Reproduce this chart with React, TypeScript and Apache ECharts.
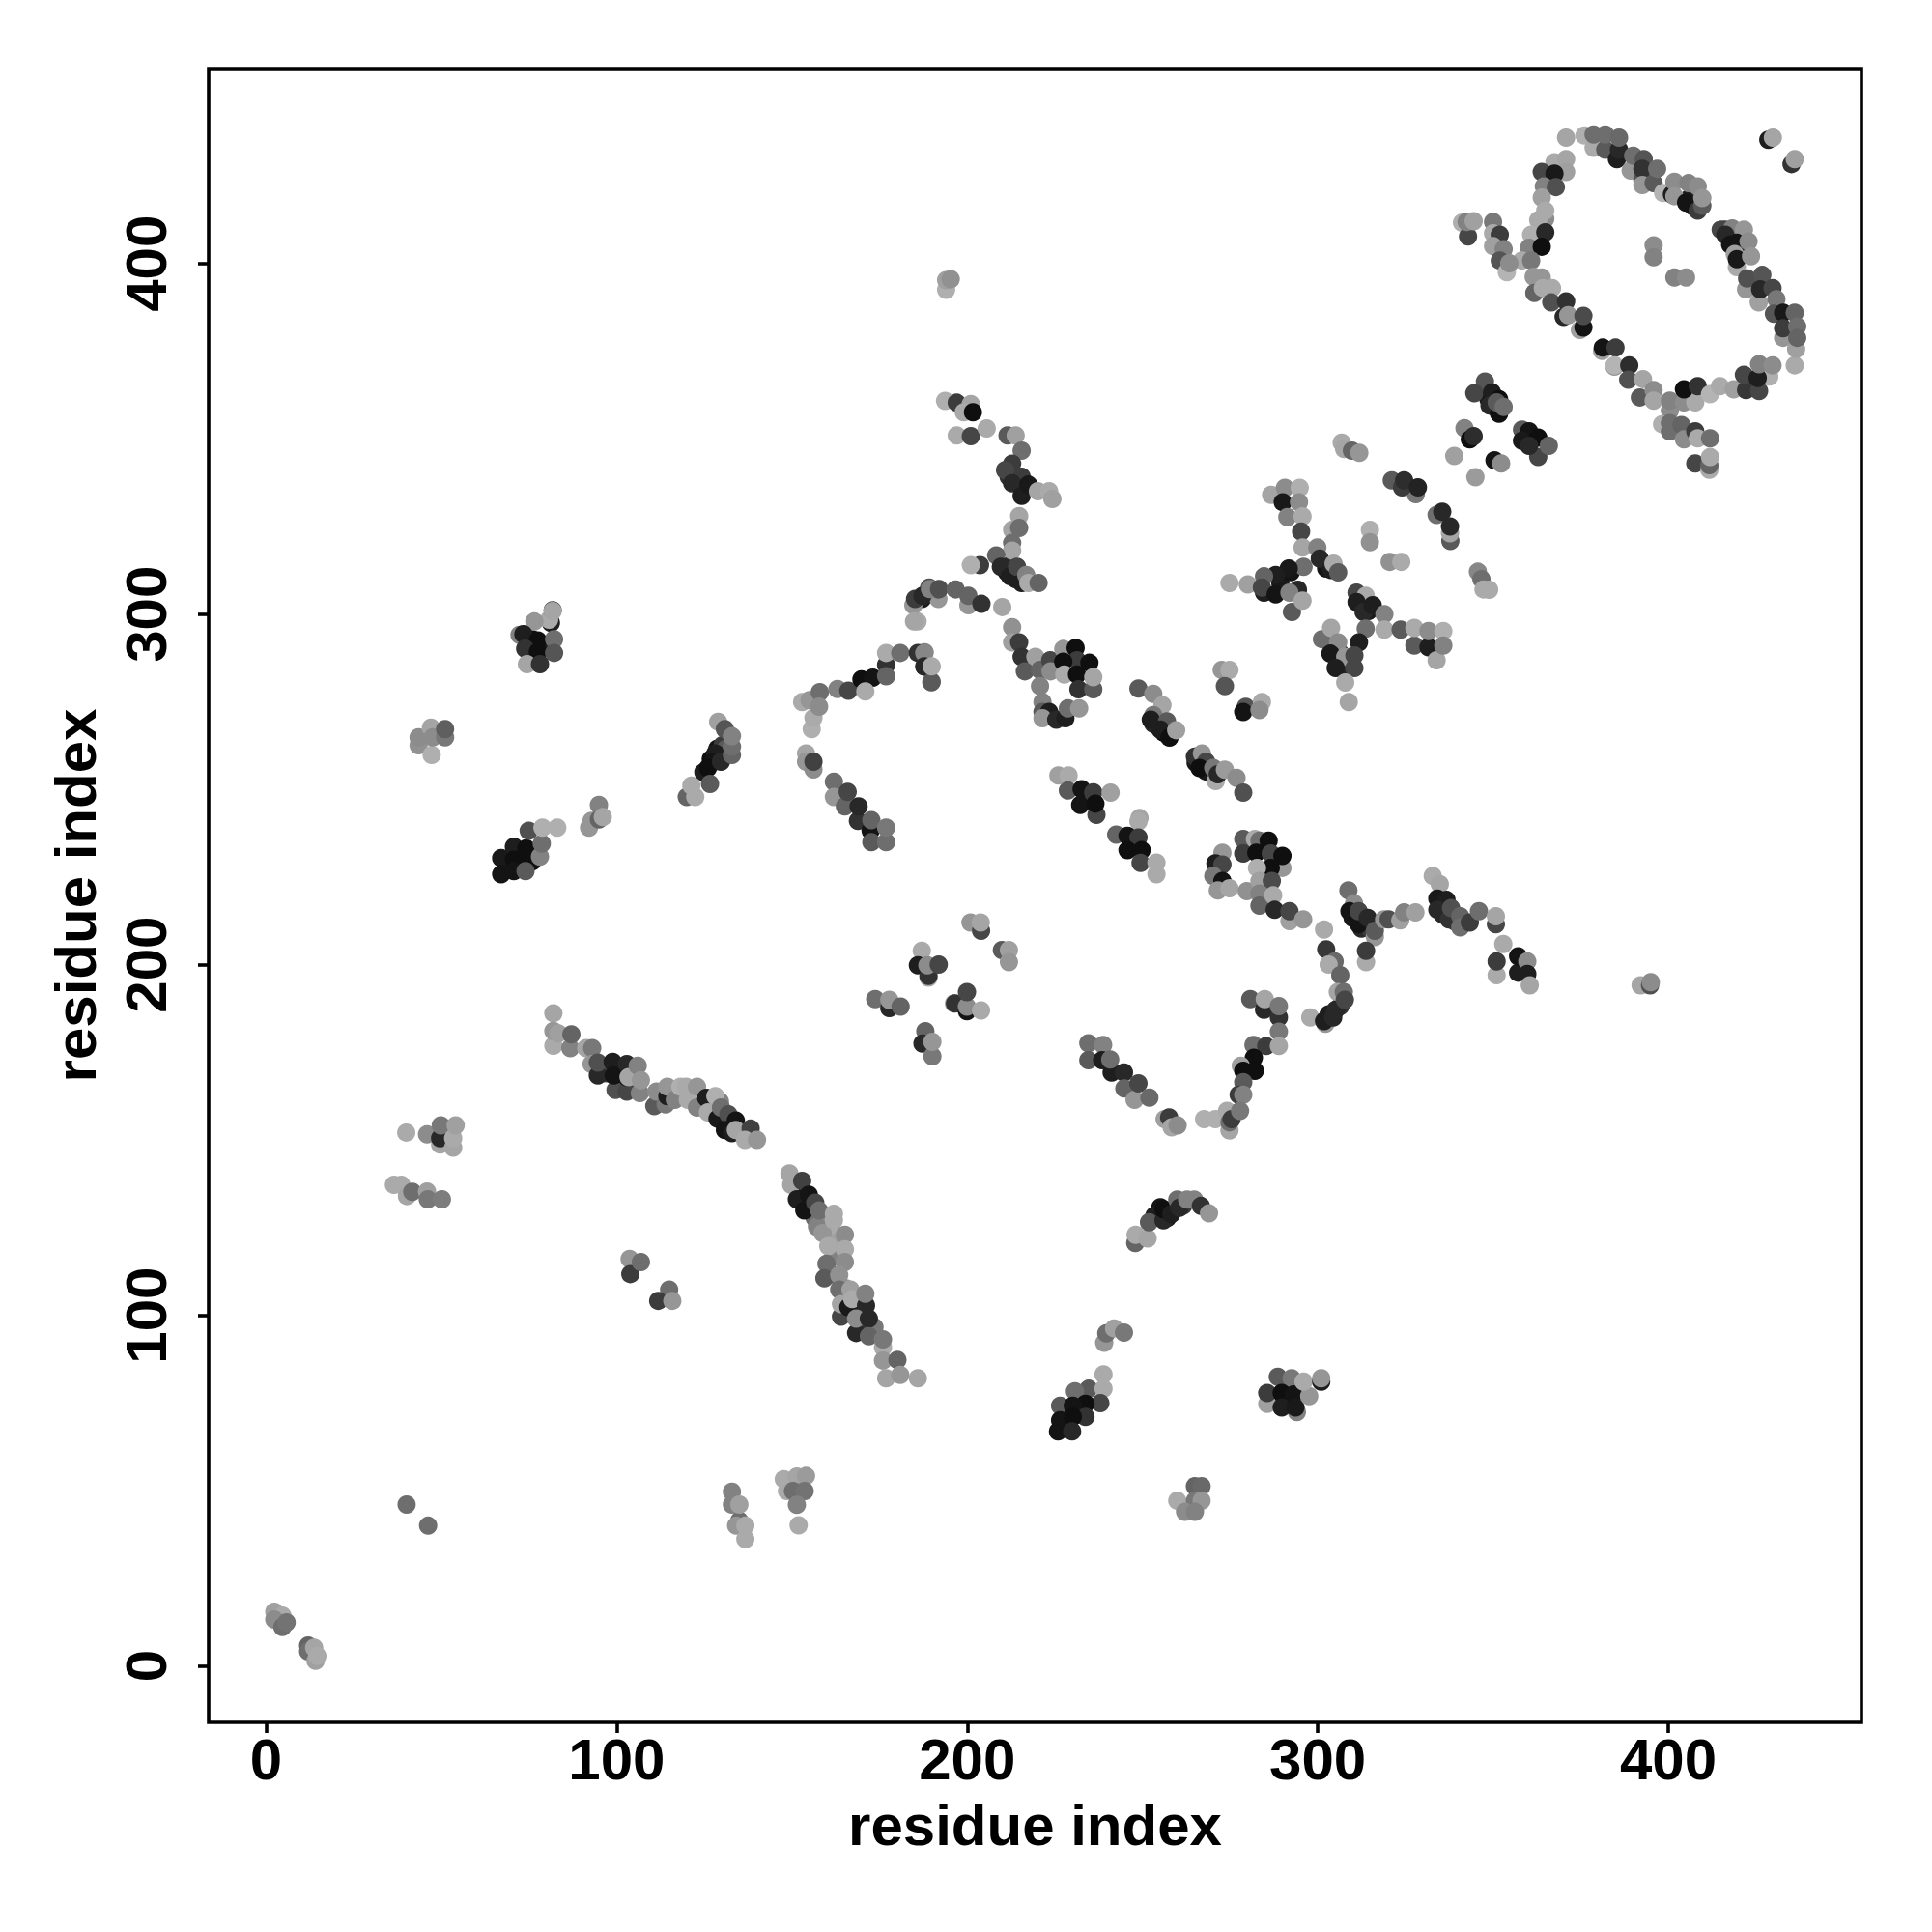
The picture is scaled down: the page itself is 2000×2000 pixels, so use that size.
import React, { useEffect, useRef } from "react";
import * as echarts from "echarts";

type Contact = [number, number, number];

const axisTitle = "residue index";
const tickValues = [0, 100, 200, 300, 400];

// each entry: residue i, residue j, grey level of the contact
const loopTop: Contact[] = [[368,435.1,165],[373.2,435.7,175],[375.8,432.2,170],[375.8,436,110],[379.1,431.7,90],[379.1,436,110],[382.4,429,30],[383,431.7,40],[383,435.1,105],[386.3,425.8,150],[387,430,110],[389.6,423.1,80],[390,429,85],[389.6,426.3,50],[389.6,421.7,150],[392.8,422.2,90],[393.8,426.3,110],[395.5,419.4,180],[398,419,30],[398.7,422.6,140],[398.7,418.5,150],[402,416.7,20],[402.7,422.2,130],[405.3,414.4,60],[406.6,415.8,90],[405.3,421.3,140],[406.6,418,150]];
const loopLeft: Contact[] = [[364.7,428.1,170],[368,429,165],[368,425.4,160],[361.1,425.4,70],[364.7,424.9,25],[361.7,421.3,130],[365.1,421.1,80],[361.1,418.1,160],[362.1,412.1,140],[362.1,414.4,170],[360.1,411.7,170],[358.1,407.6,175],[362.1,408.3,40],[357.5,403.9,130],[361.1,404.2,15],[355.5,400.3,170],[358.1,400.3,120]];
const loopBranch: Contact[] = [[338.5,411,175],[340.2,407.1,70],[339.8,411.2,130],[341.8,411.4,160],[347.3,411.2,120],[347.3,408,170],[349.2,407.6,60],[347.3,404.4,160],[350.3,403.5,130],[349.2,400.3,85],[351.2,397,180],[351.9,399.5,140]];
const loopBottom: Contact[] = [[358.8,395.7,150],[361.1,395.5,150],[359,391.1,100],[361.4,392.5,170],[364,392.5,170],[363.8,388.4,80],[368,388.7,50],[367.3,384.3,40],[368.6,384.8,150],[371.9,380.6,160],[372.9,381.3,20],[372.9,384.6,75],[378.2,374.7,160],[378.4,375.6,20],[382,375.6,60],[381.7,370.2,150],[381.7,370.6,180],[385.9,370.6,45],[385.6,366.5,80],[388.9,361.5,90],[389.8,366.7,165],[392.8,363.6,140],[392.8,360.6,165],[397.4,357.8,140],[397.4,360.6,130],[401.4,360.1,140],[404.6,360.1,170],[401.4,363.8,15],[405.3,364.7,50],[408.8,362.4,180],[411.6,364.7,170],[415.5,363.8,160],[419,363.6,55],[422.7,363.3,70],[418.4,367.9,70],[425.6,367.4,175],[422.3,367,30],[422.7,370.9,130],[426.5,370.6,140],[432.8,370.6,170]];
const loopTail: Contact[] = [[395.2,353.9,175],[397.4,351.9,110],[397.4,354.2,110],[400.7,351.9,110],[400.7,353.7,100],[401.4,349.6,140],[404.6,351.9,60],[405.3,349.9,170],[408.8,349.9,110],[404.6,342.8,70],[408.6,341,170],[408.6,342.3,100],[408.8,344.6,170]];
const loopInner: Contact[] = [[392.8,404.6,140],[392.8,401.2,130],[398.7,395.5,130],[402,395.5,140]];
const loopRight: Contact[] = [[411.8,409,70],[415.1,409.4,130],[413.1,407.6,40],[418.4,409,150],[414.5,404.8,20],[416.4,405.3,20],[419.7,405.7,140],[416.4,398.4,170],[415.8,402.1,160],[416.4,400.7,25],[420.4,401.5,150],[419,392.1,150],[419.3,395.2,80],[423.6,396.2,85],[422.6,388.4,160],[423,392.1,40],[426.5,392.5,70],[427.6,389.3,120],[426.9,385.2,85],[429.5,385.5,25],[429.5,378.4,150],[429.5,381.1,60],[433.2,375.2,160],[432.8,385.5,100],[433.5,381.6,110],[433.5,378.4,100]];
const cornerPair: Contact[] = [[425.3,434.5,30],[426.6,435.1,165],[431.9,427.6,50],[432.8,429,160]];
const crossA: Contact[] = [[345,366,85],[342,362.7,70],[347,362.9,30],[349,361,15],[346.3,359.2,40],[349,356.9,15],[348.3,360.1,90],[350.3,358.8,110],[339.2,352.8,130],[340.7,349.6,15],[341.8,350.5,45],[355.5,352.4,90],[357.5,351.9,20],[355.5,349.2,25],[360.1,350.1,15],[360.1,344.6,70],[357.5,347.8,40],[363.1,347.8,100],[336.3,344.9,160],[342.3,338.9,155],[347.7,343.7,20],[349.6,342.8,140]];
const crossB: Contact[] = [[304.4,348.7,170],[305.1,346.9,165],[307.3,346.4,100],[309.4,345.8,150],[318.6,338,90],[325.4,334.1,120],[321.5,336,60],[322.1,338,45],[326,336,35],[331.3,328.2,110],[332.9,329.1,40],[335.2,320.8,90],[335.1,323,165],[335.1,324.9,40]];
const crossC: Contact[] = [[284.4,333.9,165],[288.3,335.9,140],[292.5,335.9,175],[287.7,331.8,25],[292.3,331.8,140],[289,327.6,130],[293.3,327.8,170],[292.9,323.5,70],[293.3,319,165],[297.5,319,130],[298.2,315.8,40],[293.6,313.5,110],[289.4,313,25],[285.7,311.2,30],[282.4,310.8,100],[301.4,312.6,30],[302.1,314.4,170],[303.4,311.9,90],[272.6,308.9,170],[277.8,308.5,160],[282.4,306.2,30],[281.8,307.6,70],[285.7,305.7,20],[290.3,300.7,90],[289.6,306.2,130],[293.3,303.9,165]];
const crossD: Contact[] = [[308.6,306.2,70],[311.2,305.3,170],[308.6,303.5,30],[310.6,300.7,40],[313.2,302.6,30],[316.5,300.1,130],[316.5,295.7,170],[311.2,296,110],[309.3,292.1,30],[321.1,295.7,90],[325,291.2,90],[325,296.2,170],[329,290.7,30],[329,295.3,140],[331.3,287,165],[333.2,295.3,175],[333.2,291.2,130],[298.8,293,110],[301.4,296.2,165],[303.4,292.1,140],[301.2,288.9,25],[305.4,288,150],[302.7,284.8,30],[308,288.4,70],[308,284.8,70],[305.4,280.7,170],[306.4,275.2,165],[312.4,324,175],[312.4,320.5,145],[318,314.9,145],[321.3,314.9,170],[343,312.1,135],[344,310,110],[344.6,307.1,170],[346.2,307,170]];
const ridgeTop: Contact[] = [[192,360.5,175],[195.3,360,60],[199.3,359.6,165],[197.3,357.3,170],[199.9,357.3,15],[195.3,350.7,170],[199.3,350.5,70],[203.8,352.7,170],[209.7,350.7,90],[212,350.7,160],[213.7,346.4,110],[211,342.7,60],[209,340.9,70],[213.7,339,60],[211,337.2,40],[213.7,333.6,30],[215.6,336.8,25],[218.3,334.9,165],[221.5,334.9,170],[222.4,332.7,160],[213,327.9,165],[211,324,165],[213,324.5,110],[211,320.3,110],[211,318.1,165],[206.5,316.7,100],[201.9,314,60],[199.3,314,175],[207.8,313.5,40],[210.4,310.8,30],[212.4,313.5,70],[213.7,308.9,30],[215,311.2,130],[215.6,308.9,170],[218.5,308.9,100],[208.2,302.1,165],[192.3,392,175],[192.3,394.7,160],[193.6,395,145]];
const arcUpper: Contact[] = [[184.2,298,170],[185.5,304.4,30],[187.5,307.6,80],[190.1,304.4,150],[190.1,307.1,85],[183,302.6,150],[183.5,304.4,60],[185.6,305.3,40],[187.7,307.2,130],[190.3,307.2,80],[183.2,298,165],[195,307.1,100],[198.6,302.6,150],[198.6,305.3,100],[202.3,303,50]];
const blockMid: Contact[] = [[211,296.4,145],[211,292.1,160],[213,292.1,60],[213.7,288,50],[217.6,288,160],[214.6,283.9,90],[218.9,284.3,100],[221.8,287,70],[221.9,283.9,140],[218.9,279.7,130],[225.5,290.2,150],[229,290.5,15],[229.4,287,60],[225.5,286.6,15],[232.9,286.3,15],[225.8,283,170],[229.4,283,15],[229.8,278.8,50],[234,278.8,90],[234,282.2,165],[219.6,275.2,130],[219.6,272.4,90],[221.5,272.4,30],[219.6,270.6,150],[223.5,270.2,40],[226.1,270.6,30],[226.8,273.4,110],[230,273.4,150]];
const diagMid: Contact[] = [[246.8,279,90],[251,277.5,140],[253.6,274.3,165],[251,271.5,120],[250.3,270.2,30],[254.9,269.7,90],[253,267.4,30],[255.6,265.1,15],[257.5,267.2,160],[262.8,259.7,50],[264.8,260.6,150],[266,258.3,70],[264.1,256.5,15],[268.7,252.8,170],[268,256.5,120],[269.3,254.7,40],[271.3,256,155],[274.6,253.7,140],[276.5,249.5,80],[270.4,284.3,150],[272.6,284.3,170],[271.3,279.7,85],[277.2,273.8,85],[276.5,272.4,20],[281.8,275.2,170],[281.1,272.9,140]];
const diagLower: Contact[] = [[224.1,254.4,160],[227,254.4,170],[226.8,250.1,90],[230.7,250.5,20],[234,249.6,60],[230.3,246,20],[234.9,243.2,70],[234.6,246.4,15],[238.9,249.5,160],[247.1,242.3,165],[246.8,241.4,170],[240.5,237.6,100],[243.7,237.3,20],[246.8,236.8,60],[243.7,233.2,15],[247.7,233.2,15],[247.4,229.6,70],[251.9,229.7,170],[251.9,226.4,170]];
const ringCluster: Contact[] = [[270.6,232.5,150],[268.6,229.5,30],[270.6,229.1,70],[268,225.9,120],[270.6,224.5,20],[269.3,221.8,150],[272.6,222.4,165],[277.5,221.6,145],[276.5,236.4,90],[276.5,232.3,60],[279.8,236.4,170],[281.1,235.9,110],[280.2,232.5,15],[283.7,235.9,15],[284.3,232.3,70],[287.6,228.2,150],[287.6,231.6,15],[284.3,228.2,15],[280.4,228.2,175],[281.1,224.5,160],[284.6,224.5,75],[281.1,220.9,130],[281.1,217.5,100],[285,220.4,170],[285.4,216.3,40],[289.6,213.1,160],[289.6,215.9,70],[293.5,213.6,150],[299.4,210.7,170]];
const branchRight: Contact[] = [[306.3,221.8,110],[307.9,218.1,140],[306.6,215.9,20],[309.2,212.2,20],[309.2,215.9,70],[311.8,214,40],[313.8,208.6,150],[313.8,210.4,90],[316.4,213.6,150],[317.7,213.6,80],[321,213.3,160],[322.1,215.6,130],[325.3,215.6,160],[311.3,201.5,170],[311.3,204.7,60],[330.2,225.9,170],[332.2,223.6,165],[331.5,219.5,25],[334.1,219.1,30],[331.5,216.3,40],[334.8,213.6,50],[335.4,216.8,80],[338,214.5,100],[338,211.3,110],[340.7,212.7,60],[343.3,215.9,110],[348.1,212.2,70],[348.1,214.5,165],[350.2,206.6,170],[348.3,197.8,170],[348.3,201.7,60],[354.4,198.5,30],[354.4,203.1,20],[357,201.7,140],[357,198.1,30],[357.7,194.9,165],[389.1,194.9,165],[391.8,194.9,80],[392,195.8,140]];
const hookRight: Contact[] = [[300,205.1,55],[302.4,201.7,105],[300.7,200.8,170],[304,197.8,100],[303.3,193,165],[305,193,110],[295.5,185.8,170],[299.8,184,150],[299.4,184.8,30],[300.7,186.7,30],[302,185.8,40],[302.7,188,40],[305.3,190.8,70],[278.5,191,90],[282.4,188,40],[282.6,191,165],[286.6,185.8,50],[286.6,189,120],[286.6,181.8,120],[279.4,178,110],[283,177.7,60],[286.6,177.7,165],[279.5,174.4,15],[275.8,172.1,160],[276.5,170.7,15],[279.8,170.7,15],[276.5,167.5,90],[275.2,163.9,60],[276.5,163.9,130],[265.4,157,175],[268.6,157,175],[271.9,159.3,170],[272.6,153.8,165],[272.6,156.1,110],[273.2,157,60],[275.6,159.3,120],[232.6,178.5,110],[236.8,178,130],[232.6,173.7,90],[236.5,173.7,30],[239.2,170.2,30],[238.8,173.9,110],[242.7,170.2,40],[242.8,165.7,100],[245.7,162.5,150],[246.8,167.1,70],[249.9,163.1,105],[254.2,157,160],[255.5,157.5,60],[256.2,154.7,165],[257.9,155.2,140]];
const smallPairs: Contact[] = [[199.2,212.7,150],[202.2,210.4,70],[202.1,212.7,165],[208.1,204.9,90],[210.1,204.9,160],[210.1,201.5,150],[186.2,289.3,130],[186.2,285.2,30],[188.1,280.8,90],[188.1,285.2,165]];
const crossCentre: Contact[] = [[185.4,204.7,170],[187.3,197.1,170],[184.3,200.6,30],[187.3,197.6,50],[187,200.6,140],[190.2,200.8,70],[172.2,191,110],[176.2,188.5,40],[176.2,190.8,150],[179.4,188.9,100],[186.4,181.9,100],[185.6,178.4,40],[188.4,174.8,120],[188.4,178.9,150],[194.5,189.8,170],[194.8,189.8,50],[198.2,187.6,20],[198.2,188.9,140],[198.2,193,70],[202.2,187.8,170]];
const blobA: Contact[] = [[80.3,297.6,30],[79.8,298.5,170],[80.8,301.2,60],[80.8,301,165],[75.6,298,150],[71.4,294.2,130],[72.5,294.4,30],[76.6,292.6,15],[73,290.3,50],[76.6,289.4,15],[81.2,293,110],[81.2,289.1,85],[73.5,285.9,165],[77.2,285.9,50]];
const blobB: Contact[] = [[42.8,262.9,145],[42.8,265.2,140],[46.3,267.9,165],[46.5,260.2,175],[46.8,265.2,140],[50.3,265.2,120],[50.3,267.5,95]];
const blobC: Contact[] = [[66.2,231,25],[66.2,226.4,20],[69.8,234.2,30],[69.8,230.5,15],[69.8,227.3,20],[73.3,233.7,15],[73.3,231,15],[73.1,227.3,90],[77.2,231.4,130],[77.7,235.1,110],[74,238.7,80],[77.9,239.6,175],[82.1,239.6,175],[91.1,239.6,150],[91.8,241.5,150],[93.9,246,130],[93.9,241.9,100],[95,242.6,165]];
const blobD: Contact[] = [[127.7,269.6,160],[129.6,267.5,85],[126.9,260.6,30],[126.4,258.3,20],[124.8,256.5,15],[128.5,258.3,40],[131.6,260.2,100],[131.6,262.5,110],[131.6,265.5,130],[125.4,252,90],[118.8,248.3,100],[120.1,251.5,170],[121.2,248.3,170]];
const arcLeft: Contact[] = [[151.5,275.2,170],[154.2,267.5,175],[154.7,270.7,170],[153.6,275.7,150],[156.5,278,110],[156.3,273.9,140],[161.5,278.9,130],[164.6,278.4,70],[168.3,281.6,15],[171.5,282.1,20],[169.4,278.2,170],[175.3,285.7,50],[175.3,282.5,100],[175.3,289.1,170],[179.3,289.1,110],[184.3,289.1,50],[186.1,289.1,135],[186.1,285.3,40],[188.2,280.9,90],[188.2,285.3,170]];
const diagLeft: Contact[] = [[152.6,260.6,165],[152.6,258.3,150],[154.7,256.1,140],[154.7,258.3,65],[160.5,252.6,110],[160.5,248.3,150],[163.6,245.6,100],[164.4,249.7,70],[167.3,241.5,50],[167.5,245.6,40],[170.9,238.7,20],[171.1,235.5,90],[171.1,241.7,100],[175.3,235.5,110],[175.3,239.6,120]];
const bandLower: Contact[] = [[81,187,165],[81,177.8,170],[81,182,150],[82.4,181.3,160],[85.8,177.1,130],[86.1,181,100],[90.3,177.1,165],[92,177.1,120],[91.8,172.6,150],[93.6,169.4,40],[93.6,173,80],[97.8,173.2,30],[98.6,165.3,80],[98.1,169.4,20],[101.8,164.8,70],[101.8,172.6,40],[101.8,168.9,20],[102.3,168.9,165],[104.9,172.1,130],[105.5,164.4,130],[105.8,168,150],[109.6,160.7,90],[110.2,164.8,140],[112.8,161.2,120],[113.3,163.5,30],[113.3,166.2,150],[115.4,162.5,130],[117,166.2,175],[118.6,166.2,170],[119.1,162.5,170],[121.7,160.3,130],[121.7,166.2,150],[124.3,163,30],[124.8,158.9,170],[126.9,163.5,175],[127.5,157.1,25],[128.5,160.3,110],[130.6,158.4,80],[129.6,153.9,20],[131.6,153,30],[132.7,156.6,20],[132.7,153.9,165],[136.9,154.3,65],[135.3,151.1,170],[138.7,151.1,150]];
const clusterLeft: Contact[] = [[39.3,153.2,170],[45.2,152.7,140],[48.9,149.8,165],[48.9,151.6,40],[49.1,155.2,120],[52.6,148.9,165],[52.6,151.6,170],[53.3,155.2,160],[35.8,138.4,170],[37.9,138.4,170],[39.5,135.2,165],[41,136.4,110],[45.2,136.5,160],[45.4,134.3,120],[49.4,134.3,125],[102.6,117.4,150],[102.8,113.1,60],[105.8,116.5,110],[113.8,108.7,110],[110.7,105.5,60],[114.7,105.5,150]];
const strandDown: Contact[] = [[147.9,141.6,165],[148.4,138.4,165],[150,134.3,30],[151.5,139.5,65],[152.1,131.1,20],[153.4,135.6,20],[155.2,133.3,70],[155.7,126.5,130],[156.3,131.1,110],[157.3,124.7,150],[160.5,128.3,170],[160.5,130.2,170],[158.9,121,170],[163.6,124.2,140],[163.6,120.1,170],[158.4,116,110],[157.8,111.9,90],[163.6,116.5,140],[162,112.8,145],[162,108.7,110],[162.5,101,70],[162.5,104.6,165],[164.6,103.7,25],[165.2,108.7,160],[165.7,106,170],[169.6,104.2,40],[169.4,107.5,130],[166.8,96.4,40],[166.8,100.5,140],[170.4,100.5,40],[170.4,95.5,100],[174.4,92.3,170],[174.4,94.6,120],[174.4,88.6,150],[175.3,83.6,165],[178.5,88.8,100],[179.3,84.5,150],[184.3,83.6,165]];
const clusterLow: Contact[] = [[245.9,121.9,100],[246,124.2,170],[249.4,123.2,165],[249.8,127.8,90],[253.9,128.3,40],[253.9,131.5,15],[256.1,130.1,30],[257.8,134.2,110],[258.4,131.9,40],[260.6,134.2,130],[262.6,134.2,130],[264.5,132.4,50],[266.8,130.3,150],[237.1,93.6,150],[237.7,96.3,110],[239.9,97.7,160],[242.7,96.5,120],[236.9,84.7,170],[232.7,80.6,90],[236.9,80.6,170],[228.8,79.9,110],[236,76.5,70],[231.8,76.3,15],[224.6,75.8,90],[228.2,75.8,20],[224.6,71.7,20],[231.8,72.6,50],[228.2,72.6,15],[224,68.5,20],[228,68.5,40]];
const clusterRight: Contact[] = [[286.3,84,90],[290.2,83.6,120],[283.3,76.3,160],[283.3,79.4,60],[287.4,79.4,15],[290.8,79,20],[291.7,74,130],[287.4,75.3,30],[291.3,75.3,25],[295.2,78.5,150],[293.6,82.6,170],[298.6,82.6,30],[298.6,83.6,150]];
const clusterBottom: Contact[] = [[146.3,55,170],[150,55.7,165],[152.6,55.9,155],[147.2,51.6,170],[148.9,51.6,110],[152.2,51.6,115],[150,47.7,130],[150.5,41.9,170],[257.8,48.9,170],[262.8,53,100],[264.7,53,105],[262.8,48.9,120],[264.7,48.9,150],[260,45.7,140],[262.8,45.7,130],[39.4,47.8,110],[45.5,41.8,110],[131.6,51.4,130],[131.6,47.8,130],[133.7,43.2,110],[133.7,47.8,160],[132.8,41.8,150],[135.4,38,170],[135.4,41.8,170]];
const clusterOrigin: Contact[] = [[1.9,17.4,160],[4.2,16.3,170],[1.9,15.2,140],[4.2,13.1,110],[5.4,14.4,115],[11.5,7.8,100],[11.5,6.2,110],[13.2,7.2,165],[13.6,3.5,160],[14.1,4.9,170]];

// Thicker bands where the reference overlaps many dots.
const denseFill: Contact[] = [[127.5,262,20],[129,263,60],[130,262,90],[125.6,259,15],[123.5,255.3,30],[72,229,15],[68,229,25],[71,232,20],[75,230,15],[75,293,15],[74,291,20],[78,291,35],[150.8,136,15],[152.8,133,25],[155,129,110],[157,128,140],[159.8,125,170],[161.3,122,160],[161,118,130],[159.8,113,100],[164,109,150],[166,102,30],[168,99,60],[172,98,120],[127,159,40],[129,156.4,15],[131,155.5,25],[128.2,162,130],[111,162,130],[115,165,165],[96,170,60],[100,170.6,30],[253,132,20],[251.3,129.6,30],[255,129,25],[259.5,132.5,60],[226,74,15],[230,74.5,20],[226.5,70,25],[289,77.5,15],[286,77,25],[289.5,81,90],[309,213.5,30],[307.5,214,25],[310,211,40],[312.5,211,60],[332.6,217.5,25],[333,215,40],[336.5,213,60],[302,187,35],[304,189,50],[300.5,186,30],[405.6,417,40],[403,418,30],[404,415.6,25],[415,406,25],[413,409,60],[418,403,30],[210.5,314,40],[209.5,312,25],[212,310,30],[212,339,35],[210,339,50],[214,335,25],[287,309,25],[290,312,20],[292,307,40],[300,313,20],[310,304,20],[312,301,25],[304,289,30],[305,285,40],[252,268.5,20],[251,269,40],[254,266.5,15],[266,255.5,25],[263,258,25],[346,361,25],[348,358.5,20],[358,349.5,25],[356,350.5,15]];

// The readings above were taken against a provisional scale; these factors tie them to the ticks.
const iScale = 1.0066;
const iShift = 0.41;
const jScale = 1.0066;
const jShift = -2.07;

const contacts: Contact[] = [
  ...denseFill,
  ...loopTop, ...loopLeft, ...loopBranch, ...loopBottom, ...loopTail, ...loopInner, ...loopRight, ...cornerPair,
  ...crossA, ...crossB, ...crossC, ...crossD, ...ridgeTop, ...arcUpper, ...blockMid, ...diagMid, ...diagLower,
  ...ringCluster, ...branchRight, ...hookRight, ...smallPairs, ...crossCentre, ...blobA, ...blobB, ...blobC, ...blobD, ...arcLeft,
  ...diagLeft, ...bandLower, ...clusterLeft, ...strandDown, ...clusterLow, ...clusterRight, ...clusterBottom, ...clusterOrigin,
];

const FONT = "'Liberation Sans', Arial, sans-serif";

function axisBase(min: number, max: number) {
  return {
    type: "value" as const,
    min,
    max,
    name: axisTitle,
    nameLocation: "middle" as const,
    nameMoveOverlap: false,
    nameTextStyle: { fontFamily: FONT, fontWeight: "bold" as const, fontSize: 60, color: "#000" },
    splitLine: { show: false },
    axisLine: { show: false, onZero: false },
    axisTick: { show: true, length: 11, customValues: tickValues, lineStyle: { color: "#000", width: 3.6 } },
  };
}

export default function App() {
  const ref = useRef<HTMLDivElement>(null);
  useEffect(() => {
    const chart = echarts.init(ref.current!, undefined, { renderer: "svg" });
    chart.setOption({
      animation: false,
      backgroundColor: "#fff",
      grid: { left: 216, top: 71, width: 1711, height: 1712, show: true, borderColor: "#000", borderWidth: 3.6, backgroundColor: "transparent" },
      xAxis: {
        ...axisBase(-16.4, 455.1),
        nameGap: 76,
        axisLabel: { customValues: tickValues, fontFamily: FONT, fontWeight: "bold", fontSize: 60, color: "#000", margin: 8, hideOverlap: false },
      },
      yAxis: {
        ...axisBase(-16.1, 455.6),
        nameGap: 108,
        nameRotate: 90,
        axisLabel: { customValues: tickValues, rotate: 90, fontFamily: FONT, fontWeight: "bold", fontSize: 60, color: "#000", margin: 65, align: "center", verticalAlign: "middle", hideOverlap: false },
      },
      series: [
        {
          type: "scatter",
          symbol: "circle",
          symbolSize: 19,
          large: false,
          progressive: 0,
          data: contacts.map((c) => ({
            value: [c[0] * iScale + iShift, c[1] * jScale + jShift],
            itemStyle: { color: `rgb(${c[2]},${c[2]},${c[2]})`, opacity: 1 },
          })),
        },
      ],
    });
    return () => chart.dispose();
  }, []);
  return <div ref={ref} style={{ position: "absolute", left: 0, top: 0, width: 2000, height: 2000 }} />;
}
